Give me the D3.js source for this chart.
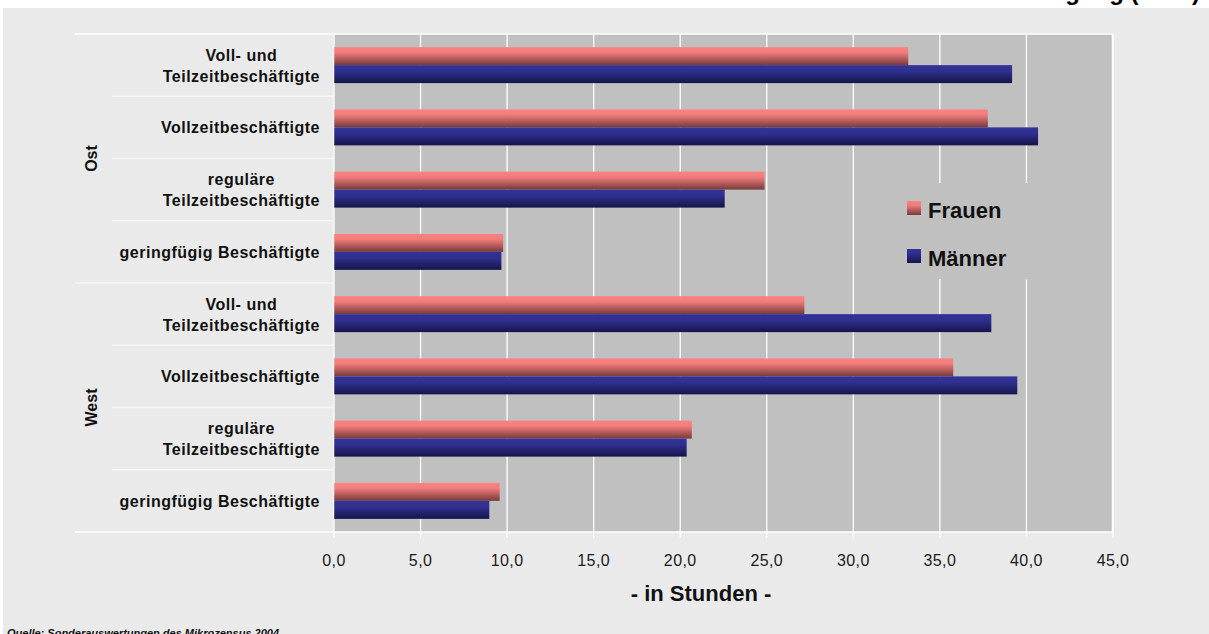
<!DOCTYPE html>
<html>
<head>
<meta charset="utf-8">
<script src="https://cdn.jsdelivr.net/npm/d3@7"></script>
<style>
  html, body { margin: 0; padding: 0; background: #ffffff; }
  svg { display: block; font-family: "Liberation Sans", Arial, sans-serif; }
</style>
</head>
<body>
<div id="chart"></div>
<script>
const groups = ["Ost", "West"];
const categories = [
  ["Voll- und", "Teilzeitbeschäftigte"],
  ["Vollzeitbeschäftigte"],
  ["reguläre", "Teilzeitbeschäftigte"],
  ["geringfügig Beschäftigte"]
];
const seriesNames = ["Frauen", "Männer"];
const frauenOst = [33.2, 37.8, 24.9, 9.8];
const maennerOst = [39.2, 40.7, 22.6, 9.7];
const frauenWest = [27.2, 35.8, 20.7, 9.6];
const maennerWest = [38.0, 39.5, 20.4, 9.0];
const xTicks = [0, 5, 10, 15, 20, 25, 30, 35, 40, 45];
const title = "Wochenarbeitszeit nach Beschäftigung (2004)";
const xLabel = "- in Stunden -";
const source = "Quelle: Sonderauswertungen des Mikrozensus 2004";

const W = 1209, H = 634;
const plot = { left: 333.5, right: 1112.5, top: 34, bottom: 532 };

const rows = [];
groups.forEach((g, gi) => {
  const fr = gi === 0 ? frauenOst : frauenWest;
  const ma = gi === 0 ? maennerOst : maennerWest;
  categories.forEach((lines, ci) => {
    rows.push({ key: g + ci, group: g, lines, Frauen: fr[ci], "Männer": ma[ci] });
  });
});

const svg = d3.select("#chart").append("svg").attr("width", W).attr("height", H);

const defs = svg.append("defs");
const gradF = defs.append("linearGradient").attr("id", "gF")
  .attr("x1", 0).attr("y1", 0).attr("x2", 0).attr("y2", 1);
gradF.append("stop").attr("offset", "0%").attr("stop-color", "#fb8282");
gradF.append("stop").attr("offset", "30%").attr("stop-color", "#f27c7c");
gradF.append("stop").attr("offset", "100%").attr("stop-color", "#773a3a");
const gradM = defs.append("linearGradient").attr("id", "gM")
  .attr("x1", 0).attr("y1", 0).attr("x2", 0).attr("y2", 1);
gradM.append("stop").attr("offset", "0%").attr("stop-color", "#333399");
gradM.append("stop").attr("offset", "35%").attr("stop-color", "#2f2f8e");
gradM.append("stop").attr("offset", "100%").attr("stop-color", "#15154a");
const fills = { Frauen: "url(#gF)", "Männer": "url(#gM)" };

// chart area background
svg.append("rect").attr("x", 3).attr("y", 8).attr("width", W - 3).attr("height", H - 8)
  .attr("fill", "#eaeaea");

// title (cut off at the top, only descenders show)
svg.append("text").attr("x", 1200).attr("y", 0).attr("text-anchor", "end")
  .attr("font-size", 24).attr("font-weight", "bold").attr("fill", "#000").text(title);

const x = d3.scaleLinear().domain([0, 45]).range([plot.left, plot.right]);
const y = d3.scaleBand().domain(rows.map(d => d.key)).range([plot.top, plot.bottom]);
const ySub = d3.scaleBand().domain(seriesNames).range([0, y.bandwidth()]).paddingOuter(0.73);

svg.append("rect").attr("x", plot.left).attr("y", plot.top)
  .attr("width", plot.right - plot.left).attr("height", plot.bottom - plot.top)
  .attr("fill", "#c0c0c0");

// vertical gridlines
svg.append("g")
  .attr("transform", `translate(0,${plot.top})`)
  .call(d3.axisBottom(x).tickValues(xTicks).tickSize(plot.bottom - plot.top).tickFormat(""))
  .call(g => g.select(".domain").remove())
  .call(g => g.selectAll("line").attr("stroke", "#ffffff").attr("stroke-width", 1.3));

// bars
const rowG = svg.append("g").selectAll("g").data(rows).join("g")
  .attr("transform", d => `translate(0,${y(d.key)})`);
rowG.selectAll("rect").data(d => seriesNames.map(s => ({ s, v: d[s] }))).join("rect")
  .attr("x", x(0))
  .attr("y", d => ySub(d.s))
  .attr("width", d => x(d.v) - x(0))
  .attr("height", ySub.bandwidth())
  .attr("fill", d => fills[d.s]);

// plot border (top, right) and left axis line
const frame = svg.append("g").attr("stroke", "#ffffff").attr("stroke-width", 1.5).attr("fill", "none");
frame.append("line").attr("x1", 75).attr("x2", plot.right).attr("y1", plot.top).attr("y2", plot.top);
frame.append("line").attr("x1", plot.right).attr("x2", plot.right).attr("y1", plot.top).attr("y2", plot.bottom);
frame.append("line").attr("x1", plot.left).attr("x2", plot.left).attr("y1", plot.top).attr("y2", plot.bottom)
  .attr("stroke", "#f4f4f4");

// x axis
svg.append("g")
  .attr("transform", `translate(0,${plot.bottom})`)
  .call(d3.axisBottom(x).tickValues(xTicks).tickSize(6).tickPadding(17)
    .tickFormat(d => d3.format(".1f")(d).replace(".", ",")))
  .call(g => g.select(".domain").attr("stroke", "#ffffff").attr("stroke-width", 1.5)
    .attr("d", `M75,0H${plot.right}`))
  .call(g => g.selectAll("line").attr("stroke", "#ffffff").attr("stroke-width", 1.3))
  .call(g => g.selectAll("text").attr("fill", "#1a1a1a").attr("font-size", 16)
    .attr("font-family", "Liberation Sans, Arial, sans-serif").attr("letter-spacing", 0.4));

// category separators
const sep = svg.append("g").attr("stroke", "#f6f6f6").attr("stroke-width", 1.5);
rows.forEach((d, i) => {
  if (i === 0) return;
  const yy = y(d.key);
  sep.append("line").attr("x1", i % categories.length === 0 ? 75 : 112).attr("x2", plot.left)
    .attr("y1", yy).attr("y2", yy);
});

// category labels
const labelRight = 320;
const labels = svg.append("g").attr("font-size", 16).attr("font-weight", "bold")
  .attr("fill", "#111").attr("letter-spacing", 0.5);
rows.forEach(d => {
  const cy = y(d.key) + y.bandwidth() / 2;
  const t = labels.append("text");
  d.lines.forEach(ln => t.append("tspan").text(ln));
  // widest line sets the block, each line centred in it, block right aligned
  const spans = t.selectAll("tspan").nodes();
  const maxW = d3.max(spans, n => n.getComputedTextLength());
  const lh = 21;
  const baseY = cy + 6 - (d.lines.length - 1) * lh / 2;
  spans.forEach((n, li) => {
    d3.select(n).attr("x", labelRight - maxW / 2).attr("y", baseY + li * lh)
      .attr("text-anchor", "middle");
  });
});

// group labels
groups.forEach(g => {
  const keys = rows.filter(r => r.group === g).map(r => r.key);
  const cy = (y(keys[0]) + y(keys[keys.length - 1]) + y.bandwidth()) / 2;
  svg.append("text").attr("transform", `translate(97,${cy}) rotate(-90)`)
    .attr("text-anchor", "middle").attr("font-size", 16).attr("font-weight", "bold")
    .attr("fill", "#111").text(g);
});

// legend
const legend = svg.append("g").attr("transform", "translate(893,183)");
legend.append("rect").attr("width", 150).attr("height", 96).attr("fill", "#c0c0c0");
seriesNames.forEach((s, i) => {
  const gy = 18 + i * 48;
  legend.append("rect").attr("x", 14).attr("y", gy).attr("width", 14).attr("height", 14)
    .attr("fill", fills[s]);
  legend.append("text").attr("x", 35).attr("y", gy + 17).attr("font-size", 22)
    .attr("font-weight", "bold").attr("fill", "#111").text(s);
});

// axis title
svg.append("text").attr("x", 701).attr("y", 601).attr("text-anchor", "middle")
  .attr("font-size", 22).attr("font-weight", "bold").attr("fill", "#111").text(xLabel);

// source (cut off at the bottom like the reference)
svg.append("text").attr("x", 7).attr("y", 637).attr("font-size", 11)
  .attr("font-weight", "bold").attr("font-style", "italic").attr("fill", "#111").text(source);
</script>
</body>
</html>
